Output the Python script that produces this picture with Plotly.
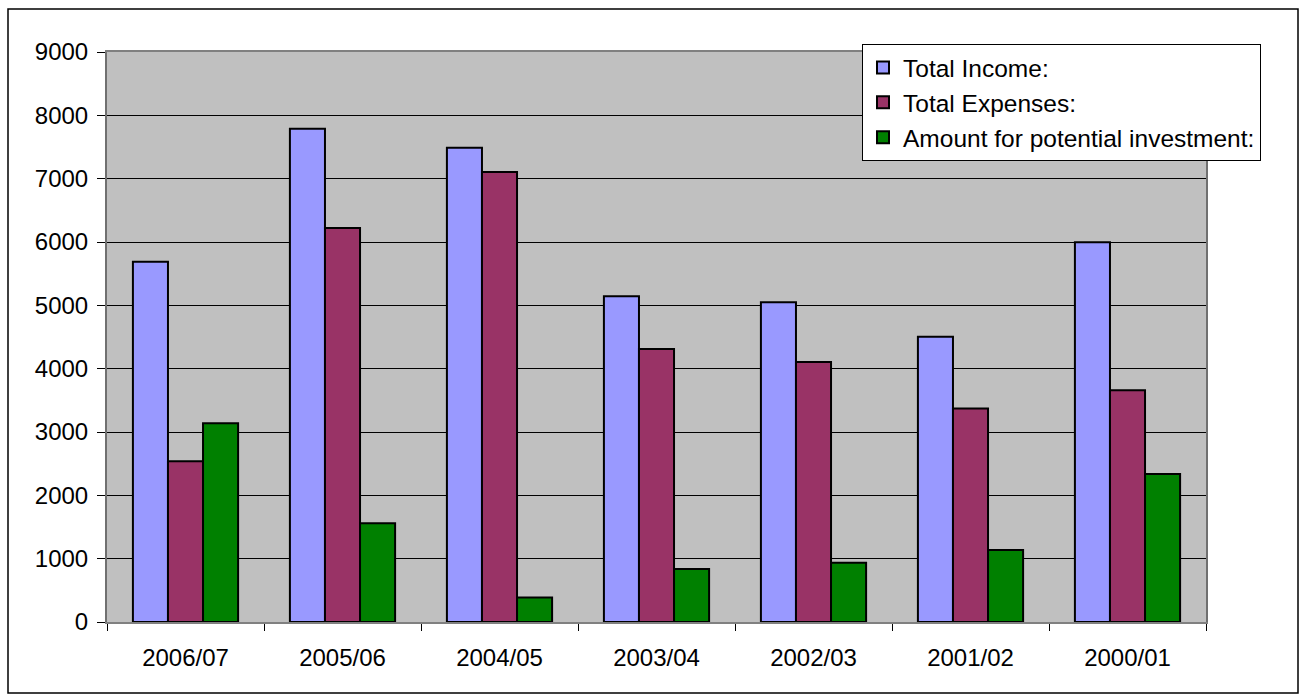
import plotly.graph_objects as go

# Financial years, most recent first
years = ["2006/07", "2005/06", "2004/05", "2003/04", "2002/03", "2001/02", "2000/01"]

total_income = [5690, 7790, 7490, 5145, 5050, 4505, 5995]
total_expenses = [2540, 6220, 7105, 4310, 4105, 3370, 3660]
potential_investment = [3140, 1560, 385, 835, 935, 1135, 2335]

series_names = ["Total Income:", "Total Expenses:", "Amount for potential investment:"]
series_colors = ["#9999FF", "#993366", "#008000"]

W, H = 1302, 695
L, R, T, B = 107, 96, 52, 73
plot_w = W - L - R
plot_h = H - T - B

font = dict(family="Arial, Liberation Sans, sans-serif", size=24, color="black")

fig = go.Figure()
for name, vals, col in zip(series_names,
                           [total_income, total_expenses, potential_investment],
                           series_colors):
    fig.add_trace(go.Bar(
        x=years, y=vals, name=name,
        marker=dict(color=col, line=dict(color="black", width=2)),
    ))


def px_x(p):
    return (p - L) / plot_w


def px_y(p):
    return (H - B - p) / plot_h


# outer frame around the whole chart
fig.add_shape(type="rect", xref="paper", yref="paper",
              x0=px_x(8), x1=px_x(1298), y0=px_y(693), y1=px_y(9),
              line=dict(color="black", width=1.5), fillcolor="rgba(0,0,0,0)",
              layer="below")

fig.update_layout(
    width=W, height=H,
    margin=dict(l=L, r=R, t=T, b=B, pad=0),
    paper_bgcolor="white",
    plot_bgcolor="#C0C0C0",
    font=font,
    barmode="group",
    bargap=0.33,
    bargroupgap=0,
    showlegend=True,
    legend=dict(
        x=px_x(862), y=px_y(44), xanchor="left", yanchor="top",
        bgcolor="white", bordercolor="black", borderwidth=1,
        font=dict(family=font["family"], size=24.5, color="black"),
        itemwidth=30, tracegroupgap=0,
    ),
    xaxis=dict(
        type="category",
        showline=True, linecolor="#808080", linewidth=2, mirror=True,
        ticks="outside", tickson="boundaries", ticklen=7, tickcolor="black", tickwidth=1,
        showgrid=False, zeroline=False,
        tickfont=font,
        ticklabelstandoff=13,
    ),
    yaxis=dict(
        range=[0, 9000], dtick=1000, tick0=0,
        showline=True, linecolor="#707070", linewidth=2, mirror=True,
        ticks="outside", ticklen=8, tickcolor="black", tickwidth=1,
        showgrid=True, gridcolor="black", gridwidth=1,
        zeroline=False,
        tickfont=font,
        ticklabelstandoff=4,
    ),
)

fig.write_html("out.html")
